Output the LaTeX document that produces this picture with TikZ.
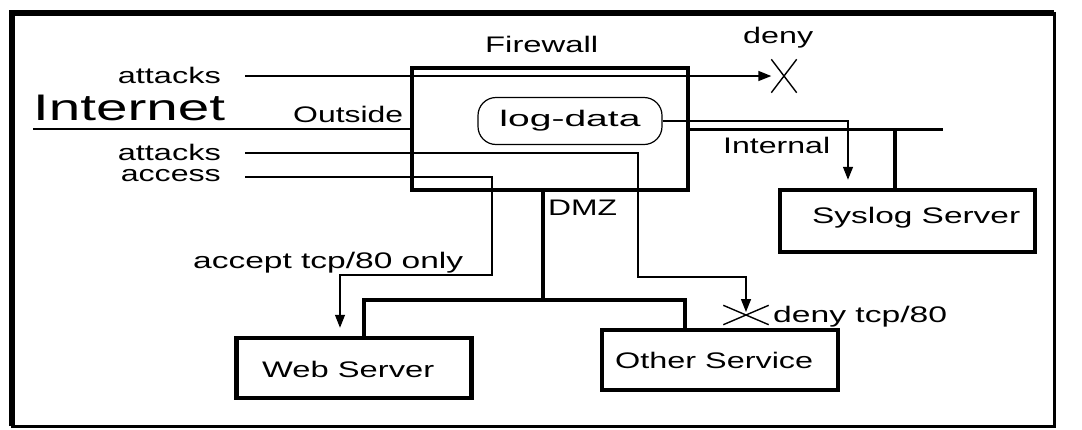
\documentclass[tikz,border=0pt]{standalone}
\usepackage{fontspec}
\setmainfont{Liberation Sans}
\usetikzlibrary{arrows.meta,shapes.misc}
% stretch a label horizontally to a given width (in pt), keeping its height
\newcommand{\fitw}[2]{\resizebox{#1pt}{\height}{#2}}

\begin{document}
\begin{tikzpicture}[x=1pt,y=-1pt,
  txt/.style={inner sep=0pt, font=\fontsize{22.5}{26}\selectfont},
  bigtxt/.style={inner sep=0pt, font=\fontsize{37}{42}\selectfont},
  box/.style={draw, line width=4.5pt, inner sep=0pt},
  flow/.style={line width=1.4pt},
  arr/.style={flow, -{Triangle[length=13pt,width=10pt]}},
  bus/.style={line width=4.5pt},
  xmark/.style={cross out, draw, line width=1.4pt, inner sep=0pt},
]
\useasboundingbox (0,0) rectangle (1082,429);
\fill[white] (0,0) rectangle (1082,429);

% outer frame
\draw[line width=3pt] (12,13) rectangle (1054,426);
\draw[line width=6pt] (12,426) -- (12,13) -- (1054,13);

% main boxes
\node[box, minimum width=276pt, minimum height=122pt] (fw) at (550,129) {};
\node[draw, line width=1.2pt, rounded corners=18pt, inner sep=0pt,
      minimum width=184pt, minimum height=47pt, txt] (log) at (570,121)
      {\raisebox{-2pt}{\fitw{141}{log-data}}};
\node[box, minimum width=255pt, minimum height=62pt] (syslog) at (907.5,221) {};
\node[box, minimum width=235pt, minimum height=60pt] (web) at (354,368) {};
\node[box, minimum width=236pt, minimum height=60pt] (other) at (720,360) {};

% deny marks
\node[xmark, minimum width=24pt, minimum height=32pt] (x1) at (784,76) {};
\node[xmark, minimum width=44pt, minimum height=18pt] (x2) at (746,315) {};

% labels
\node[txt, anchor=base west] (lfw) at (485,52) {\fitw{113}{Firewall}};
\node[txt, anchor=base west] (ldeny) at (743,43) {\fitw{70}{deny}};
\node[txt, anchor=base east] (latt1) at (221,83) {\fitw{103}{attacks}};
\node[bigtxt, anchor=base west] (lnet) at (33,120) {\fitw{192}{Internet}};
\node[txt, anchor=base west] (lout) at (293,122) {\fitw{110}{Outside}};
\node[txt, anchor=base east] (latt2) at (221,160) {\fitw{103}{attacks}};
\node[txt, anchor=base east] (lacc) at (221,181) {\fitw{100}{access}};
\node[txt, anchor=base west] (lint) at (723,153) {\fitw{107}{Internal}};
\node[txt, anchor=base west] (lsys) at (812,223) {\fitw{208}{Syslog Server}};
\node[txt, anchor=base west] (ldmz) at (548,215) {\fitw{69}{DMZ}};
\node[txt, anchor=base west] (lacp) at (193,268) {\fitw{270}{accept tcp/80 only}};
\node[txt, anchor=base west] (ldeny2) at (773,322) {\fitw{174}{deny tcp/80}};
\node[txt, anchor=base west] (lweb) at (262,377) {\fitw{172}{Web Server}};
\node[txt, anchor=base west] (loth) at (615,368) {\fitw{198}{Other Service}};

% network segments
\coordinate (netL) at (33,129);
\coordinate (intR) at (943,129);
\coordinate (tap) at (895,129);
\coordinate (dmzJ) at (543,300);
\coordinate (dmzL) at (364,300);
\coordinate (dmzR) at (685,300);
\draw[line width=2.5pt] (netL) -- (fw.west);
\draw[line width=3pt] (fw.east) -- (intR);
\draw[line width=4pt] (tap) -- (tap |- syslog.north);
\draw[bus] (fw.south -| dmzJ) -- (dmzJ);
\draw[bus] (web.north -| dmzL) -- (dmzL) -- (dmzR) -- (other.north -| dmzR);

% traffic flows
\coordinate (a1) at (245,76);
\coordinate (a2) at (245,153);
\coordinate (a2t) at (638,153);
\coordinate (a2b) at (638,277);
\coordinate (a2r) at (746,277);
\coordinate (ac) at (245,177);
\coordinate (act) at (492,177);
\coordinate (acb) at (492,275);
\coordinate (acl) at (340,275);
\coordinate (ld) at (848,121);

\draw[arr] (a1) -- (x1.west);
\draw[arr, shorten >=3pt] (a2) -- (a2t) -- (a2b) -- (a2r) -- (x2.center);
\draw[arr, shorten >=8pt] (ac) -- (act) -- (acb) -- (acl) -- (acl |- web.north);
\draw[arr, shorten >=8pt] (log.east) -- (ld) -- (ld |- syslog.north);
\end{tikzpicture}
\end{document}
